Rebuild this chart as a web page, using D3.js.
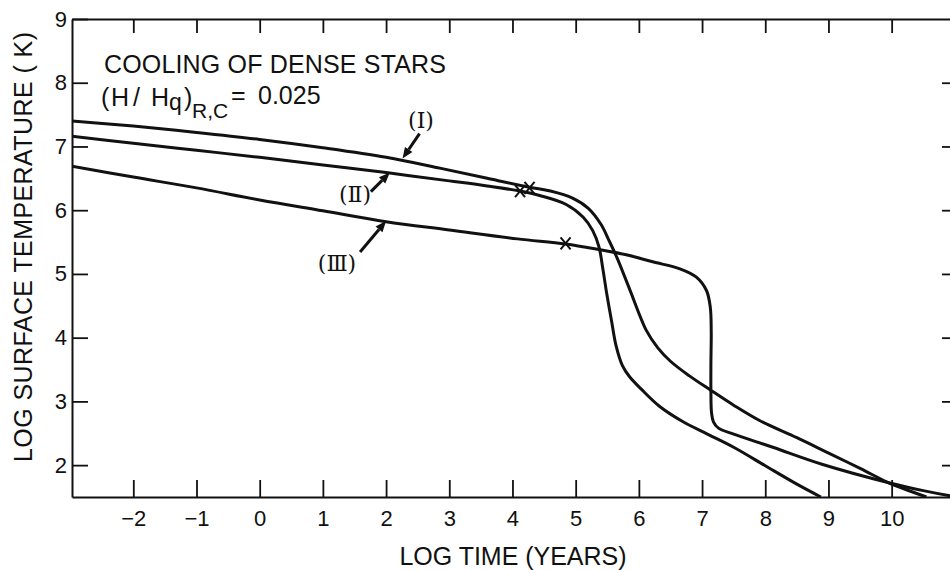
<!DOCTYPE html>
<html>
<head>
<meta charset="utf-8">
<script src="https://cdn.jsdelivr.net/npm/d3@7"></script>
<style>
  html, body { margin: 0; padding: 0; background: #fff; }
  svg { display: block; }
  text { font-family: "Liberation Sans", Arial, sans-serif; fill: #111; }
</style>
</head>
<body>
<svg id="chart" width="950" height="570"></svg>
<script>
// Cooling tracks: [log time (years), log surface temperature (K)]
const curveI = [
  [-2.97, 7.40], [-2, 7.32], [-1, 7.22], [0, 7.11], [1, 6.98], [2, 6.83],
  [2.85, 6.66], [3.6, 6.50], [4.27, 6.36], [4.6, 6.30], [4.95, 6.19],
  [5.2, 6.03], [5.4, 5.78], [5.53, 5.52], [5.66, 5.24], [5.85, 4.77],
  [6.12, 4.11], [6.3, 3.84], [6.5, 3.63], [6.8, 3.40], [7.13, 3.18],
  [7.5, 2.94], [7.91, 2.70], [8.5, 2.43], [9.02, 2.18], [9.5, 1.95],
  [9.98, 1.71], [10.3, 1.59], [10.55, 1.5]
];
const curveII = [
  [-2.97, 7.16], [-2, 7.05], [-1, 6.94], [0, 6.83], [1, 6.71], [2, 6.59],
  [3, 6.46], [3.6, 6.38], [4.12, 6.30], [4.43, 6.23], [4.85, 6.09],
  [5.12, 5.89], [5.27, 5.68], [5.37, 5.42], [5.43, 5.08], [5.49, 4.70],
  [5.57, 4.25], [5.64, 3.87], [5.74, 3.56], [5.85, 3.39], [6.05, 3.18],
  [6.33, 2.92], [6.7, 2.68], [7.1, 2.48], [7.5, 2.28], [8.0, 1.99],
  [8.45, 1.73], [8.88, 1.5]
];
const curveIII = [
  [-2.97, 6.69], [-2, 6.52], [-1, 6.35], [0, 6.16], [1, 5.99], [2, 5.82],
  [3, 5.69], [4.08, 5.55], [4.84, 5.47], [5.38, 5.38], [5.8, 5.30],
  [6.22, 5.19], [6.65, 5.08], [6.91, 4.95], [7.07, 4.74], [7.13, 4.48],
  [7.145, 4.11], [7.14, 3.59], [7.14, 3.17], [7.15, 2.82], [7.18, 2.68],
  [7.26, 2.58], [7.49, 2.49], [8.12, 2.28], [8.91, 2.01], [9.97, 1.72],
  [10.5, 1.60], [10.92, 1.52], [11.05, 1.5]
];

// Points marked with a cross on each track (I, II, III)
const crossMarks = [[4.27, 6.35], [4.12, 6.30], [4.84, 5.48]];

// Track labels and where their arrows touch the tracks
const trackLabels = ["(Ⅰ)", "(Ⅱ)", "(Ⅲ)"];
const arrowTips = [[2.26, 6.81], [2.06, 6.59], [2.0, 5.83]];

const xTickValues = [-2, -1, 0, 1, 2, 3, 4, 5, 6, 7, 8, 9, 10];
const yTickValues = [2, 3, 4, 5, 6, 7, 8, 9];

const svg = d3.select("#chart");
svg.append("rect").attr("width", 950).attr("height", 570).attr("fill", "#fff");

const x = d3.scaleLinear().domain([-2.97, 11.05]).range([72, 958]);
const y = d3.scaleLinear().domain([1.5, 9]).range([497, 19]);

const ink = "#111";

function styleAxis(g) {
  g.select(".domain").attr("stroke", ink).attr("stroke-width", 2);
  g.selectAll(".tick line").attr("stroke", ink).attr("stroke-width", 1.8);
}

// Bottom axis with inward ticks and labels
const gBottom = svg.append("g")
  .attr("transform", `translate(0,${y(1.5)})`)
  .call(d3.axisBottom(x).tickValues(xTickValues).tickSizeInner(-17).tickSizeOuter(0));
styleAxis(gBottom);
gBottom.selectAll(".tick text")
  .attr("y", 29).attr("dy", 0)
  .attr("font-size", 22).attr("fill", ink)
  .style("font-family", '"Liberation Sans", Arial, sans-serif');

// Top axis (ticks only)
const gTop = svg.append("g")
  .attr("transform", `translate(0,${y(9)})`)
  .call(d3.axisTop(x).tickValues(xTickValues).tickSizeInner(-14).tickSizeOuter(0).tickFormat(""));
styleAxis(gTop);

// Left axis with labels
const gLeft = svg.append("g")
  .attr("transform", `translate(${x(-2.97)},0)`)
  .call(d3.axisLeft(y).tickValues(yTickValues).tickSizeInner(-16).tickSizeOuter(0).tickPadding(5));
styleAxis(gLeft);
gLeft.selectAll(".tick text")
  .attr("font-size", 22).attr("fill", ink)
  .style("font-family", '"Liberation Sans", Arial, sans-serif');

// Right axis (ticks only)
const gRight = svg.append("g")
  .attr("transform", `translate(${x(11.05)},0)`)
  .call(d3.axisRight(y).tickValues(yTickValues.filter(v => v < 9)).tickSizeInner(-16).tickSizeOuter(0).tickFormat(""));
styleAxis(gRight);

// Tracks
const line = d3.line()
  .x(d => x(d[0]))
  .y(d => y(d[1]))
  .curve(d3.curveCatmullRom.alpha(0.5));

svg.append("defs").append("clipPath").attr("id", "plot")
  .append("rect").attr("x", 72).attr("y", 19).attr("width", 886).attr("height", 478);

svg.append("g").attr("clip-path", "url(#plot)")
  .selectAll("path.track")
  .data([curveI, curveII, curveIII])
  .join("path")
  .attr("class", "track")
  .attr("d", line)
  .attr("fill", "none")
  .attr("stroke", ink)
  .attr("stroke-width", 3)
  .attr("stroke-linejoin", "round");

// Cross markers
svg.append("g").selectAll("path.cross")
  .data(crossMarks)
  .join("path")
  .attr("class", "cross")
  .attr("transform", d => `translate(${x(d[0])},${y(d[1])})`)
  .attr("d", "M-5,-6L5,6M-5,6L5,-6")
  .attr("stroke", ink)
  .attr("stroke-width", 2)
  .attr("fill", "none");

// Arrows from labels to tracks (tail offsets in pixels from the tip)
const tailOffsets = [[17, -25], [-19, 19], [-26, 31]];
const labelPos = [[421, 128], [355, 202], [337, 271]];

const arrows = svg.append("g");
arrowTips.forEach((t, i) => {
  const tx = x(t[0]), ty = y(t[1]);
  const sx = tx + tailOffsets[i][0], sy = ty + tailOffsets[i][1];
  const ang = Math.atan2(ty - sy, tx - sx);
  const headLen = 11, headW = 4.5;
  const bx = tx - headLen * Math.cos(ang), by = ty - headLen * Math.sin(ang);
  arrows.append("line")
    .attr("x1", sx).attr("y1", sy).attr("x2", bx).attr("y2", by)
    .attr("stroke", ink).attr("stroke-width", 3);
  const px = -Math.sin(ang), py = Math.cos(ang);
  arrows.append("path")
    .attr("d", `M${tx},${ty}L${bx + px * headW},${by + py * headW}L${bx - px * headW},${by - py * headW}Z`)
    .attr("fill", ink);
  arrows.append("text")
    .attr("x", labelPos[i][0]).attr("y", labelPos[i][1])
    .attr("text-anchor", "middle")
    .attr("font-size", 22)
    .style("font-family", '"DejaVu Serif", "Liberation Serif", serif')
    .text(trackLabels[i]);
});

// Title and parameter
svg.append("text")
  .attr("x", 104).attr("y", 73)
  .attr("font-size", 25)
  .attr("textLength", 342).attr("lengthAdjust", "spacing")
  .text("COOLING OF DENSE STARS");

const formula = svg.append("text").attr("font-size", 25);
formula.append("tspan").attr("x", 101).attr("y", 106).text("(");
formula.append("tspan").attr("x", 111).attr("y", 106).text("H");
formula.append("tspan").attr("x", 133).attr("y", 106).text("/");
formula.append("tspan").attr("x", 151).attr("y", 106).text("H");
formula.append("tspan").attr("x", 169).attr("y", 110).attr("font-size", 23).text("q");
formula.append("tspan").attr("x", 184).attr("y", 106).text(")");
formula.append("tspan").attr("x", 192).attr("y", 118).attr("font-size", 21).text("R,C");
formula.append("tspan").attr("x", 231).attr("y", 104).text("=");
formula.append("tspan").attr("x", 258).attr("y", 104).text("0.025");

// Axis titles
svg.append("text")
  .attr("x", 513).attr("y", 565)
  .attr("text-anchor", "middle")
  .attr("font-size", 25)
  .attr("textLength", 227).attr("lengthAdjust", "spacing")
  .text("LOG TIME (YEARS)");

svg.append("text")
  .attr("transform", "translate(32,247) rotate(-90)")
  .attr("text-anchor", "middle")
  .attr("font-size", 25)
  .attr("textLength", 430).attr("lengthAdjust", "spacing")
  .text("LOG SURFACE TEMPERATURE ( K)");
</script>
</body>
</html>
